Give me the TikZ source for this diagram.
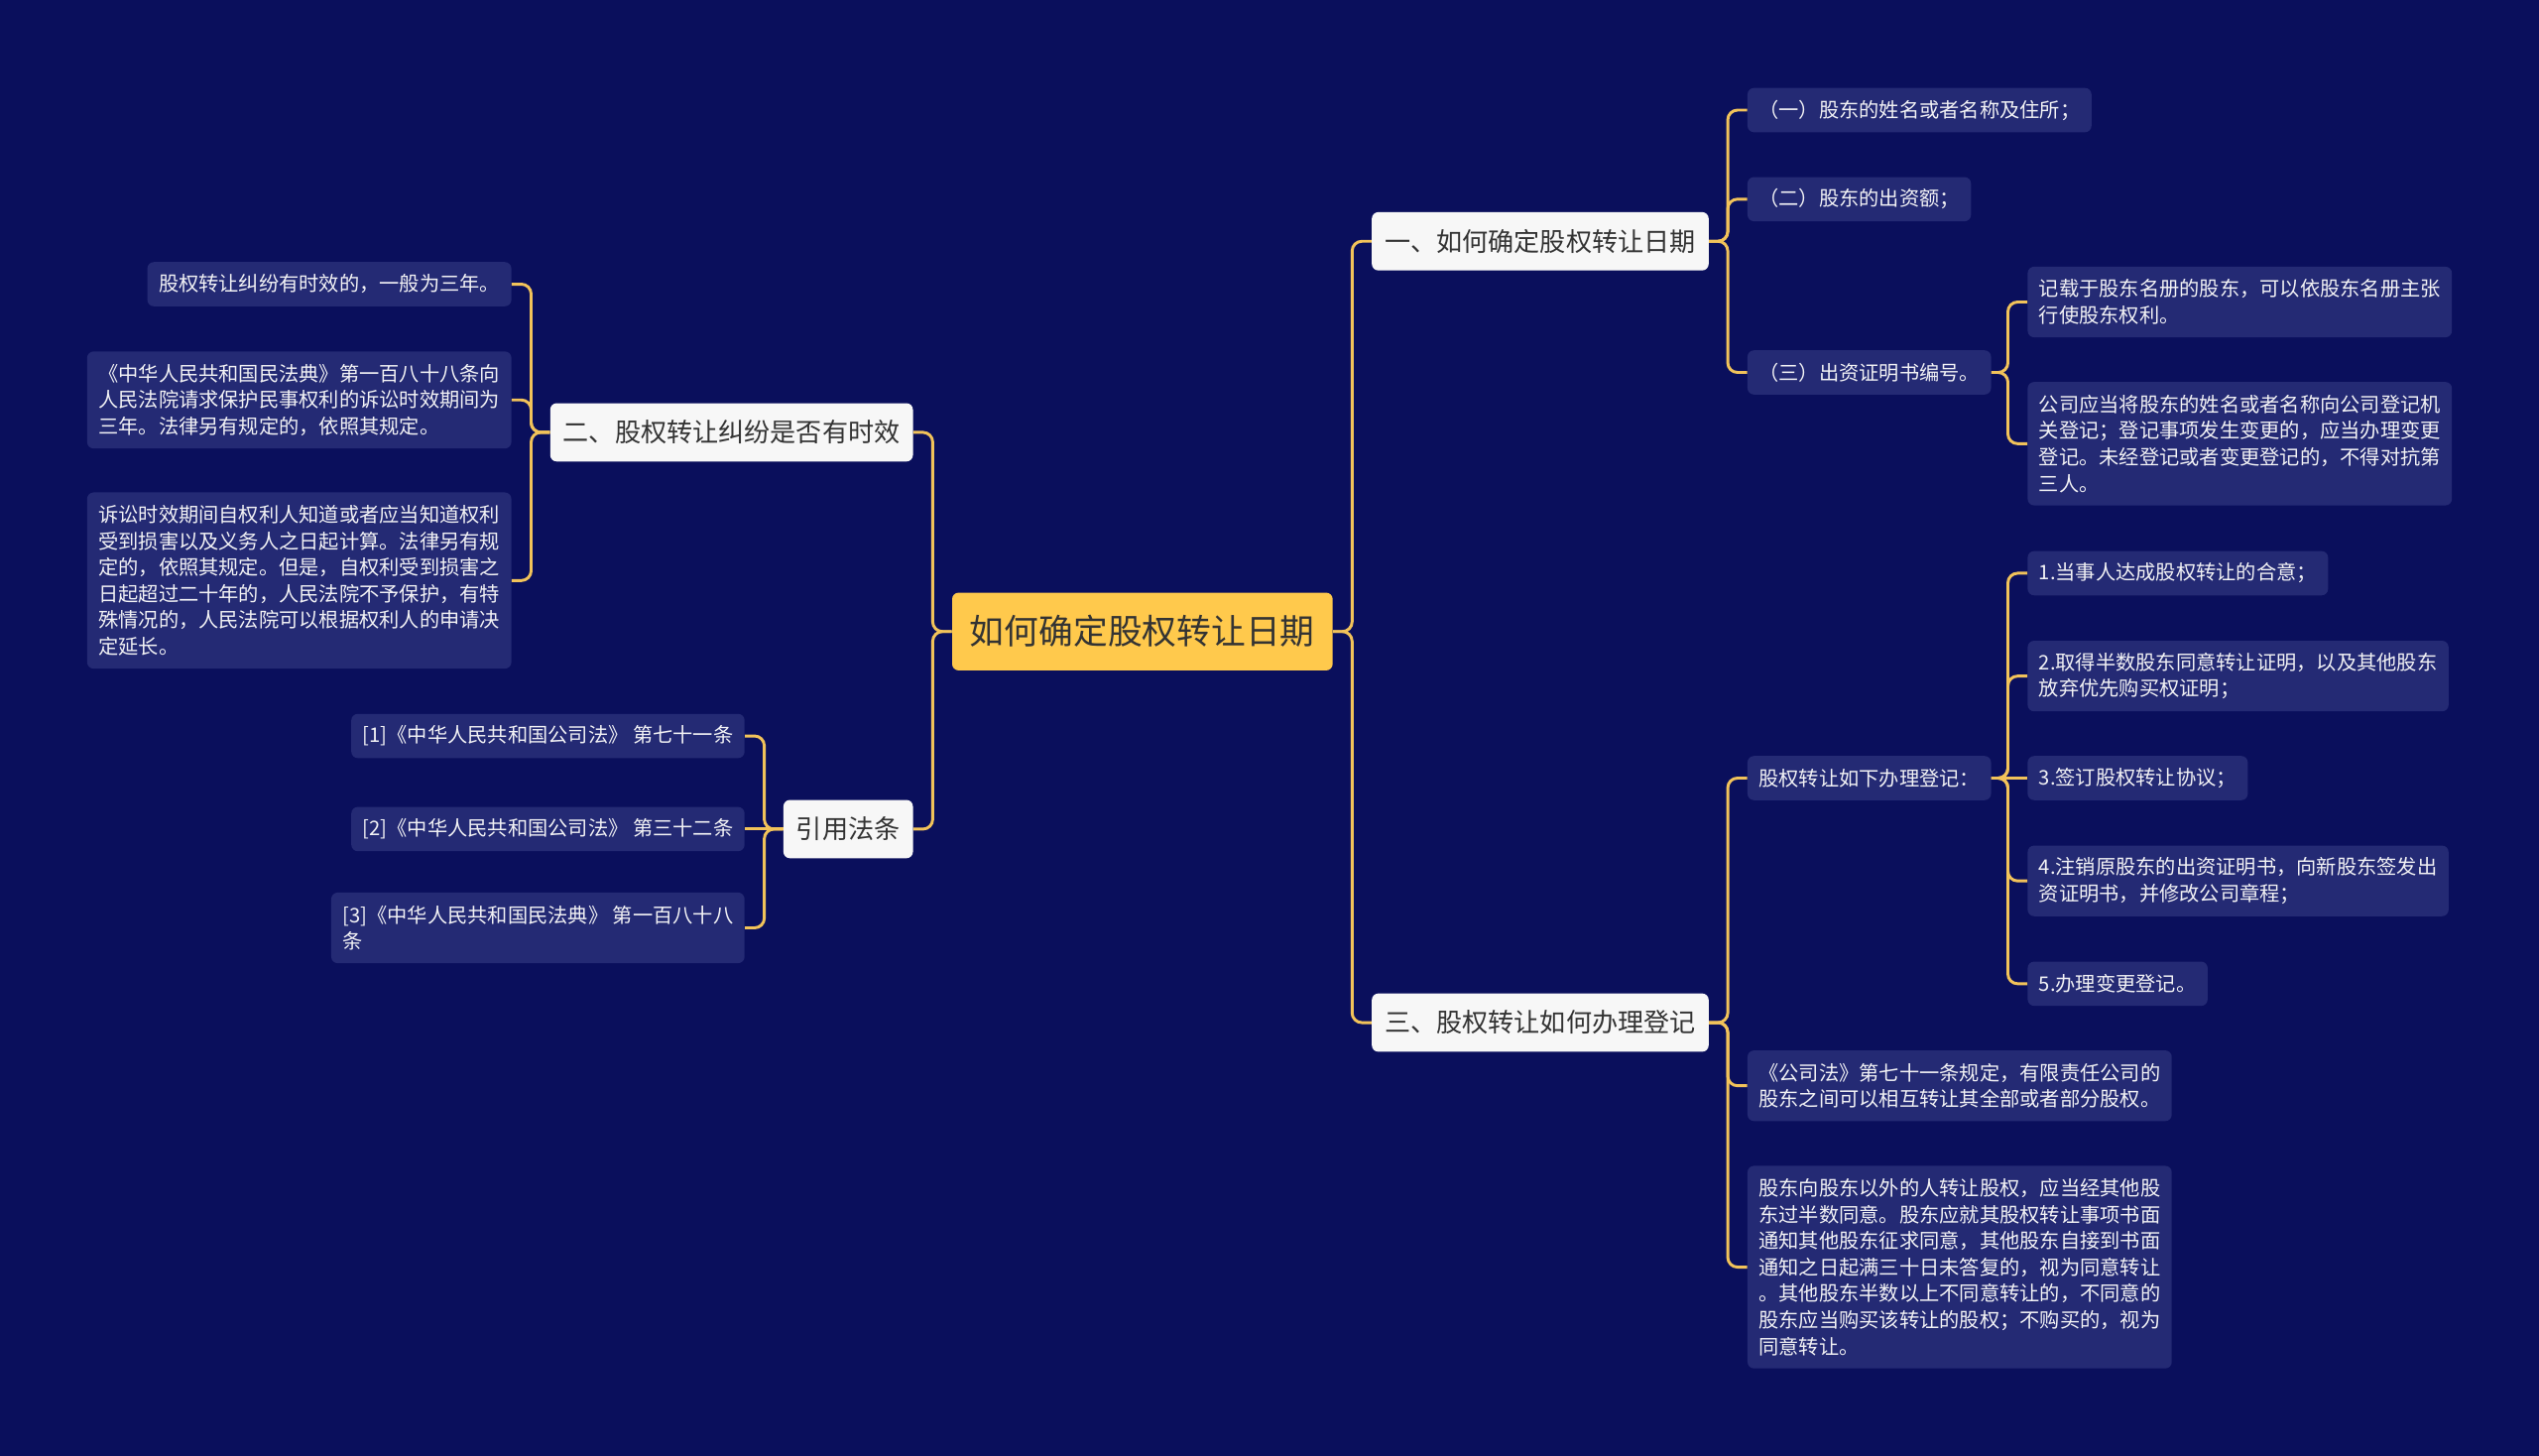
\documentclass[tikz,border=0pt]{standalone}
\usepackage{fontspec}
\setmainfont{Noto Sans CJK SC}
\usetikzlibrary{calc}
\definecolor{bg}{HTML}{0A0F5C}
\definecolor{leaf}{HTML}{242A74}
\definecolor{gold}{HTML}{F2C35A}
\definecolor{rootc}{HTML}{FFC94C}
\definecolor{lvl}{HTML}{F7F7F7}
\definecolor{ink}{HTML}{333333}
\definecolor{leaftext}{HTML}{F2F2F5}
\begin{document}
\begin{tikzpicture}[x=1pt,y=-1pt,
  rootnode/.style={fill=rootc, text=ink, rounded corners=4pt,
    font=\fontsize{21.3}{24}\selectfont, minimum width=235pt, minimum height=48pt, inner sep=0pt},
  topic/.style={fill=lvl, text=ink, rounded corners=4pt,
    font=\fontsize{16}{19}\selectfont, minimum height=36pt, inner xsep=8pt, inner ysep=1pt},
  leafnode/.style={fill=leaf, text=leaftext, rounded corners=4pt,
    font=\fontsize{12.4}{16.3}\selectfont, align=left, inner xsep=7pt, inner ysep=1pt},
  nl/.style={minimum height={11pt+16.3pt*#1}},
  conn/.style={draw=gold, line width=1.8pt, rounded corners=6pt}]
\fill[bg] (0,0) rectangle (1568,899);
\useasboundingbox (0,0) rectangle (1568,899);

% root and topics
\node[rootnode] (R) at (705.5,390) {如何确定股权转让日期};
\node[topic, anchor=west] (A) at (847,149) {一、如何确定股权转让日期};
\node[topic, anchor=west] (D) at (847,631.5) {三、股权转让如何办理登记};
\node[topic, anchor=east] (B) at (564,267) {二、股权转让纠纷是否有时效};
\node[topic, anchor=east] (C) at (564,512) {引用法条};

% trunks
\coordinate (tR) at (835,0);
\coordinate (tL) at (576,0);
\coordinate (tA) at (1067,0);
\coordinate (tA3) at (1240,0);
\coordinate (tD1) at (1240,0);
\coordinate (tB) at (328,0);
\coordinate (tC) at (472,0);

% branch A
\node[leafnode, nl=1, anchor=west] (A1) at (1079,68) {（一）股东的姓名或者名称及住所；};
\node[leafnode, nl=1, anchor=west] (A2) at (1079,123) {（二）股东的出资额；};
\node[leafnode, nl=1, anchor=west] (A3) at (1079,230) {（三）出资证明书编号。};
\node[leafnode, nl=2, anchor=west] (A3a) at (1252,186.5) {记载于股东名册的股东，可以依股东名册主张\\行使股东权利。};
\node[leafnode, nl=4, anchor=west] (A3b) at (1252,274) {公司应当将股东的姓名或者名称向公司登记机\\关登记；登记事项发生变更的，应当办理变更\\登记。未经登记或者变更登记的，不得对抗第\\三人。};

% branch D
\node[leafnode, nl=1, anchor=west] (D1) at (1079,480.5) {股权转让如下办理登记：};
\node[leafnode, nl=1, anchor=west] (D1a) at (1252,354) {1.当事人达成股权转让的合意；};
\node[leafnode, nl=2, anchor=west] (D1b) at (1252,417.5) {2.取得半数股东同意转让证明，以及其他股东\\放弃优先购买权证明；};
\node[leafnode, nl=1, anchor=west] (D1c) at (1252,480.5) {3.签订股权转让协议；};
\node[leafnode, nl=2, anchor=west] (D1d) at (1252,544) {4.注销原股东的出资证明书，向新股东签发出\\资证明书，并修改公司章程；};
\node[leafnode, nl=1, anchor=west] (D1e) at (1252,607.5) {5.办理变更登记。};
\node[leafnode, nl=2, anchor=west] (D2) at (1079,670.5) {《公司法》第七十一条规定，有限责任公司的\\股东之间可以相互转让其全部或者部分股权。};
\node[leafnode, nl=7, anchor=west] (D3) at (1079,782.5) {股东向股东以外的人转让股权，应当经其他股\\东过半数同意。股东应就其股权转让事项书面\\通知其他股东征求同意，其他股东自接到书面\\通知之日起满三十日未答复的，视为同意转让\\。其他股东半数以上不同意转让的，不同意的\\股东应当购买该转让的股权；不购买的，视为\\同意转让。};

% branch B
\node[leafnode, nl=1, anchor=east] (B1) at (316,175.5) {股权转让纠纷有时效的，一般为三年。};
\node[leafnode, nl=3, anchor=east] (B2) at (316,247) {《中华人民共和国民法典》第一百八十八条向\\人民法院请求保护民事权利的诉讼时效期间为\\三年。法律另有规定的，依照其规定。};
\node[leafnode, nl=6, anchor=east] (B3) at (316,358.5) {诉讼时效期间自权利人知道或者应当知道权利\\受到损害以及义务人之日起计算。法律另有规\\定的，依照其规定。但是，自权利受到损害之\\日起超过二十年的，人民法院不予保护，有特\\殊情况的，人民法院可以根据权利人的申请决\\定延长。};

% branch C
\node[leafnode, nl=1, anchor=east] (C1) at (460,454.5) {[1]《中华人民共和国公司法》 第七十一条};
\node[leafnode, nl=1, anchor=east] (C2) at (460,512) {[2]《中华人民共和国公司法》 第三十二条};
\node[leafnode, nl=2, anchor=east] (C3) at (460,573) {[3]《中华人民共和国民法典》 第一百八十八\\条};

% connectors
\draw[conn] (R.east) -- (R.east -| tR) |- (A.west);
\draw[conn] (R.east) -- (R.east -| tR) |- (D.west);
\draw[conn] (R.west) -- (R.west -| tL) |- (B.east);
\draw[conn] (R.west) -- (R.west -| tL) |- (C.east);

\foreach \c in {A1,A2,A3}
  \draw[conn] (A.east) -- (A.east -| tA) |- (\c.west);
\foreach \c in {A3a,A3b}
  \draw[conn] (A3.east) -- (A3.east -| tA3) |- (\c.west);
\foreach \c in {D1,D2,D3}
  \draw[conn] (D.east) -- (D.east -| tA) |- (\c.west);
\foreach \c in {D1a,D1b,D1d,D1e}
  \draw[conn] (D1.east) -- (D1.east -| tD1) |- (\c.west);
\draw[conn] (D1.east) -- (D1c.west);
\foreach \c in {B1,B2,B3}
  \draw[conn] (B.west) -- (B.west -| tB) |- (\c.east);
\foreach \c in {C1,C3}
  \draw[conn] (C.west) -- (C.west -| tC) |- (\c.east);
\draw[conn] (C.west) -- (C2.east);
\end{tikzpicture}
\end{document}
